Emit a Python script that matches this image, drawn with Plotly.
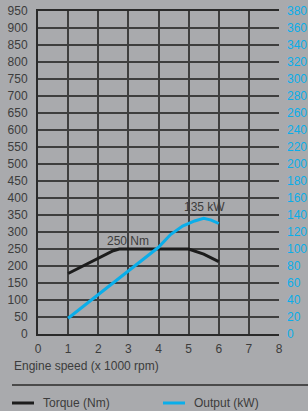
import plotly.graph_objects as go

# Data
rpm_torque = [1.0, 1.5, 2.0, 2.5, 2.7, 5.0, 5.5, 6.0]
torque_nm = [178, 201, 224, 245, 250, 250, 235, 213]

rpm_output = [1.0, 4.0, 4.4, 4.8, 5.2, 5.5, 5.75, 6.0]
output_kw = [18.5, 102, 117, 127, 133, 136, 134, 130]

x_ticks = [0, 1, 2, 3, 4, 5, 6, 7, 8]
torque_label = "250 Nm"
output_label = "135 kW"

BG = "#a9aaad"
GRID = "#3e3e3e"
BLUE = "#0aaeea"
BLACK = "#1c1c1c"
TXT = "#3c3c3c"
FONT = "Liberation Sans, Arial, sans-serif"

fig = go.Figure()
fig.add_trace(go.Scatter(x=rpm_torque, y=torque_nm, mode="lines",
                         line=dict(color=BLACK, width=3), name="Torque (Nm)"))
fig.add_trace(go.Scatter(x=rpm_output, y=output_kw, mode="lines", yaxis="y2",
                         line=dict(color=BLUE, width=3), name="Output (kW)"))

fig.update_layout(
    width=308, height=411,
    margin=dict(l=38, r=29, t=11, b=77, autoexpand=False),
    paper_bgcolor=BG, plot_bgcolor=BG,
    showlegend=False,
    font=dict(family=FONT, size=12, color=TXT),
    xaxis=dict(range=[0, 8], tickvals=x_ticks, showgrid=True, gridcolor=GRID, gridwidth=1.5,
               zeroline=False, showline=True, linecolor="#2a2a2a", linewidth=2, mirror=True,
               ticks="", ticklabelstandoff=3, automargin=False, tickfont=dict(size=12, color=TXT)),
    yaxis=dict(range=[0, 950], dtick=50, showgrid=True, gridcolor=GRID, gridwidth=1.5,
               zeroline=False, showline=True, linecolor="#2a2a2a", linewidth=2,
               ticks="", ticklabelstandoff=6, automargin=False, tickfont=dict(size=12, color=TXT)),
    yaxis2=dict(range=[0, 380], dtick=20, overlaying="y", side="right", showgrid=False,
                zeroline=False, showline=False, ticks="", ticklabelstandoff=7, automargin=False,
                tickfont=dict(size=12, color=BLUE)),
)

fig.add_annotation(x=3.0, y=273, xref="x", yref="y", text=torque_label, showarrow=False,
                   font=dict(size=12, color=TXT))
fig.add_annotation(x=5.52, y=149, xref="x", yref="y2", text=output_label, showarrow=False,
                   font=dict(size=12, color=TXT))

# helpers to place paper items at pixel positions
def px_x(p):
    return (p - 38) / (308 - 38 - 29)

def px_y(p):
    return (411 - 77 - p) / (411 - 11 - 77)

# Axis title
fig.add_annotation(x=px_x(12), y=px_y(366), xref="paper", yref="paper", text="Engine speed (x 1000 rpm)",
                   showarrow=False, xanchor="left", yanchor="middle", font=dict(size=12, color=TXT))

# separator
fig.add_shape(type="line", xref="paper", yref="paper", x0=px_x(12), x1=px_x(308),
              y0=px_y(385), y1=px_y(385), line=dict(color="#4a4a4a", width=2))

# legend
fig.add_shape(type="line", xref="paper", yref="paper", x0=px_x(12), x1=px_x(34),
              y0=px_y(403), y1=px_y(403), line=dict(color=BLACK, width=3))
fig.add_annotation(x=px_x(41), y=px_y(403), xref="paper", yref="paper", text="Torque (Nm)",
                   showarrow=False, xanchor="left", yanchor="middle", font=dict(size=12, color=TXT))
fig.add_shape(type="line", xref="paper", yref="paper", x0=px_x(163), x1=px_x(185),
              y0=px_y(403), y1=px_y(403), line=dict(color=BLUE, width=3))
fig.add_annotation(x=px_x(192), y=px_y(403), xref="paper", yref="paper", text="Output (kW)",
                   showarrow=False, xanchor="left", yanchor="middle", font=dict(size=12, color=TXT))

fig.write_html("out.html", config={"displayModeBar": False},
               post_script="document.body.style.margin='0';document.body.style.overflow='hidden';"
                           "document.body.style.background='" + BG + "';")
